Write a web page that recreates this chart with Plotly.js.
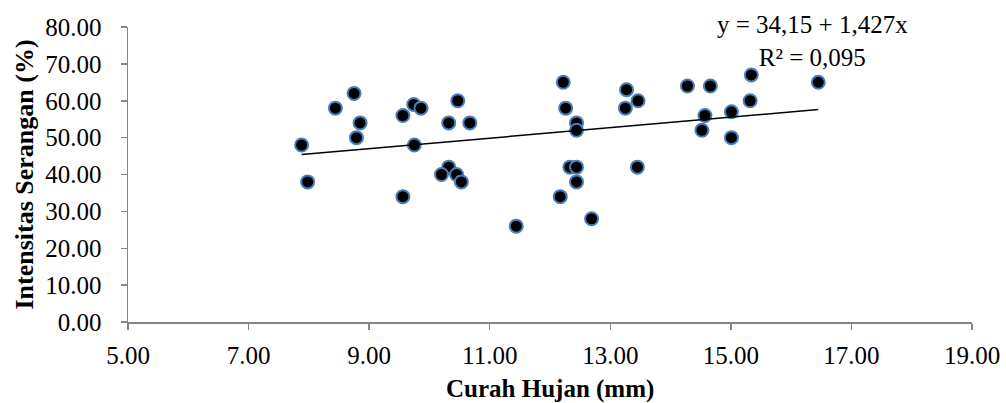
<!DOCTYPE html>
<html>
<head>
<meta charset="utf-8">
<script src="https://cdn.plot.ly/plotly-3.0.1.min.js"></script>
<style>html,body{margin:0;padding:0;background:#fff;}#chart{width:1006px;height:403px;}</style>
</head>
<body>
<div id="chart"></div>
<script>
// Curah Hujan (mm)
const curahHujan = [7.88, 7.98, 8.44, 8.75, 8.85, 8.79, 9.56, 9.56, 9.74, 9.86, 9.75,
  10.32, 10.67, 10.47, 10.32, 10.20, 10.45, 10.53, 11.44,
  12.22, 12.26, 12.44, 12.44, 12.33, 12.44, 12.44, 12.17, 12.69,
  13.27, 13.46, 13.25, 13.45, 14.28, 14.66, 14.57, 14.52,
  15.34, 15.32, 15.01, 15.01, 16.45];
// Intensitas Serangan (%)
const intensitas = [48, 38, 58, 62, 54, 50, 56, 34, 59, 58, 48,
  54, 54, 60, 42, 40, 40, 38, 26,
  65, 58, 54, 52, 42, 42, 38, 34, 28,
  63, 60, 58, 42, 64, 64, 56, 52,
  67, 60, 57, 50, 65];
// Linear trend coefficients (as shown on the chart)
const intercept = 34.15;
const slope = 1.427;
const equationText = "y = 34,15 + 1,427x<br>R² = 0,095";
const xTitle = "Curah Hujan (mm)";
const yTitle = "Intensitas Serangan (%)";
const xTickVals = [5, 7, 9, 11, 13, 15, 17, 19];
const yTickVals = [0, 10, 20, 30, 40, 50, 60, 70, 80];

const xMin = Math.min(...curahHujan), xMax = Math.max(...curahHujan);
const trendX = [xMin, xMax];
const trendY = trendX.map(v => intercept + slope * v);

const font = "'Liberation Serif', 'Times New Roman', serif";
const axisColor = '#868686';

const data = [
  {
    x: curahHujan, y: intensitas, type: 'scatter', mode: 'markers',
    marker: {size: 13, color: '#000000', line: {color: '#4a7ebb', width: 2}},
    hoverinfo: 'x+y', showlegend: false
  },
  {
    x: trendX, y: trendY, type: 'scatter', mode: 'lines',
    line: {color: '#000000', width: 1.5}, hoverinfo: 'skip', showlegend: false
  }
];

const layout = {
  width: 1006, height: 403,
  margin: {l: 128, r: 34, t: 27, b: 80.5, pad: 0},
  paper_bgcolor: '#ffffff', plot_bgcolor: '#ffffff',
  font: {family: font, color: '#000000', size: 25},
  showlegend: false,
  xaxis: {
    range: [5, 19], tickvals: xTickVals, ticktext: xTickVals.map(v => v.toFixed(2)),
    showgrid: false, zeroline: false, showline: true, linecolor: axisColor, linewidth: 1.5,
    ticks: 'outside', ticklen: 6, tickcolor: axisColor, tickwidth: 1.5,
    tickfont: {family: font, size: 25, color: '#000000'},
    ticklabelstandoff: 4
  },
  yaxis: {
    range: [0, 80], tickvals: yTickVals, ticktext: yTickVals.map(v => v.toFixed(2)),
    showgrid: false, zeroline: false, showline: true, linecolor: axisColor, linewidth: 1.5,
    ticks: 'outside', ticklen: 6, tickcolor: axisColor, tickwidth: 1.5,
    tickfont: {family: font, size: 25, color: '#000000'},
    ticklabelstandoff: 14,
    title: {text: '<b>' + yTitle + '</b>', font: {family: font, size: 26, color: '#000000'}, standoff: 4}
  },
  annotations: [
    {
      x: 16.35, y: 76.3, xref: 'x', yref: 'y', text: equationText, showarrow: false,
      xanchor: 'center', yanchor: 'middle', align: 'center',
      font: {family: font, size: 25, color: '#000000'}
    },
    {
      x: 0.5, y: -0.228, xref: 'paper', yref: 'paper', text: '<b>' + xTitle + '</b>', showarrow: false,
      xanchor: 'center', yanchor: 'middle',
      font: {family: font, size: 25, color: '#000000'}
    }
  ]
};

Plotly.newPlot('chart', data, layout, {displayModeBar: false, staticPlot: true});
</script>
</body>
</html>
